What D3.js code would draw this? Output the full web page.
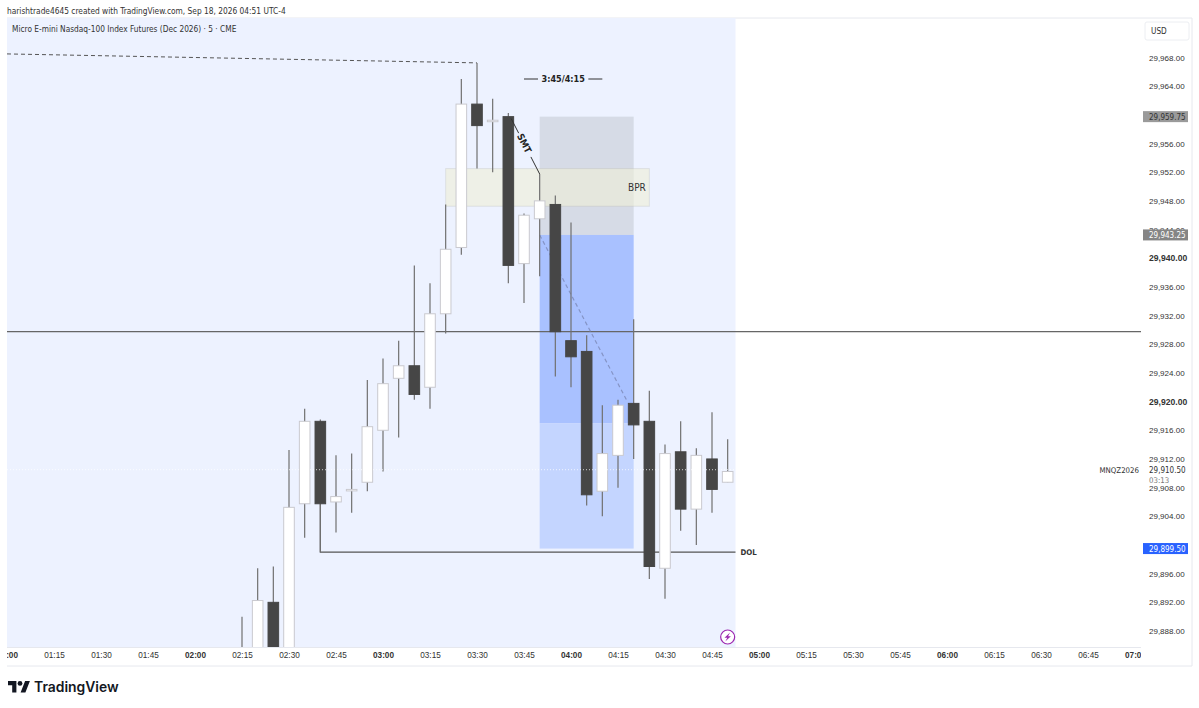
<!DOCTYPE html>
<html>
<head>
<meta charset="utf-8">
<script src="https://d3js.org/d3.v7.min.js"></script>
<style>
  html, body { margin: 0; padding: 0; background: #fff; }
  svg { display: block; font-family: "DejaVu Sans Condensed", "DejaVu Sans", sans-serif; }
  .axis path, .axis line { display: none; }
  .axis text { fill: #333; font-size: 8px; }
  .time text { font-size: 8.2px; }
  .axis text.major { font-weight: bold; }
  .price text.major { font-size: 8.6px; }
</style>
</head>
<body>
<div class="board"></div>
<script>
// candles (the first few run below the bottom of the pane)
var times = ['02:15','02:20','02:25','02:30','02:35','02:40','02:45','02:50','02:55','03:00','03:05','03:10','03:15','03:20','03:25','03:30','03:35','03:40','03:45','03:50','03:55','04:00','04:05','04:10','04:15','04:20','04:25','04:30','04:35','04:40','04:45','04:50'];
var opens = [29883,29884,29892,29885,29905.75,29917.25,29906,29907.75,29908.75,29916,29923.25,29925,29922,29932.25,29941.5,29961.5,29959.25,29959.75,29939.25,29945.5,29947.5,29928.5,29927,29907.5,29912.5,29919.75,29917.25,29896.75,29913,29905,29912,29908.75];
var highs = [29890,29896.75,29897,29913.25,29919,29917.5,29912.5,29912.75,29923,29926,29928.5,29939,29936.5,29947.5,29965,29967.25,29962.25,29960.25,29946.25,29951.75,29948.75,29945,29929.25,29919.5,29920.25,29931.5,29921.5,29914,29917.25,29913.5,29918.5,29914.75];
var lows = [29880,29882,29883,29884,29901,29899,29901.75,29904.5,29907.5,29910.25,29915,29920.25,29919,29929.5,29940.5,29952.5,29952,29936.5,29933.75,29937.5,29923.5,29922,29905.5,29904,29908,29912,29895.25,29892.5,29902,29900,29904.5,29908.75];
var closes = [29885,29892.25,29885,29905.25,29917.25,29905.75,29906.75,29907.75,29916.5,29922.5,29925,29921,29932.25,29941.25,29961.5,29958.5,29959.25,29939,29946,29948,29929.75,29926.25,29907,29912.75,29919.5,29916.75,29897,29912.75,29905,29912.5,29907.75,29910.25];

// axes
var priceTicks = d3.range(29888, 29969, 4);
var majorPrices = [29920, 29940];
var timeTicks = ['01:00','01:15','01:30','01:45','02:00','02:15','02:30','02:45','03:00','03:15','03:30','03:45','04:00','04:15','04:30','04:45','05:00','05:15','05:30','05:45','06:00','06:15','06:30','06:45','07:00'];

// drawings
var sessionEnd = '04:52:30';
var boxTimes = ['03:50', '04:20'];
var stopPrice = 29959.75, entryPrice = 29943.25, midPrice = 29917, targetPrice = 29899.5;
var bprTimes = ['03:20', '04:25'];
var bprPrices = [29952.5, 29947.25];
var levelPrice = 29929.75;
var dolPrice = 29899, dolStart = '02:40';
var dashedTimes = ['01:00', '03:30'], dashedPrices = [29968.5, 29967.25];
var smtTimes = ['03:40', '03:50'], smtPrices = [29960.25, 29951.75];
var pathTimes = ['03:50', '04:18'], pathPrices = [29943.25, 29920];
var lastPrice = 29910.5;

var settings = { w: 1199, h: 708, left: 7, right: 1141, top: 18, bottom: 647, axisEdge: 1192, axisBottom: 666 };

var parseTime = d3.timeParse('%H:%M');
var formatPrice = d3.format(',.2f');

var x = d3.scaleTime()
  .domain([parseTime('01:00'), parseTime('07:00')])
  .range([7, 1135]);

var y = d3.scaleLinear()
  .domain([29888, 29968])
  .range([631, 57.5]);

var board = d3.select('.board').append('svg')
  .attr('width', settings.w)
  .attr('height', settings.h);

var defs = board.append('defs');
defs.append('clipPath').attr('id', 'pane').append('rect')
  .attr('x', settings.left).attr('y', settings.top)
  .attr('width', settings.right - settings.left).attr('height', settings.bottom - settings.top);
defs.append('clipPath').attr('id', 'timeclip').append('rect')
  .attr('x', settings.left).attr('y', settings.bottom)
  .attr('width', settings.right - settings.left).attr('height', settings.axisBottom - settings.bottom);

// header
board.append('text').attr('x', 7).attr('y', 13.5)
  .attr('font-size', 8.3).attr('fill', '#333')
  .text('harishtrade4645 created with TradingView.com, Sep 18, 2026 04:51 UTC-4');

// frame
board.append('path')
  .attr('d', 'M' + settings.left + ',' + settings.top + 'H' + settings.axisEdge + 'V' + settings.axisBottom + 'H' + settings.left)
  .attr('fill', 'none').attr('stroke', '#e6e8ee');
board.append('line')
  .attr('x1', settings.left).attr('x2', settings.right)
  .attr('y1', settings.bottom + .5).attr('y2', settings.bottom + .5)
  .attr('stroke', '#e6e8ee');

var pane = board.append('g').attr('clip-path', 'url(#pane)');

// session background
pane.append('rect')
  .attr('x', settings.left).attr('y', settings.top)
  .attr('width', x(d3.timeParse('%H:%M:%S')(sessionEnd)) - settings.left).attr('height', settings.bottom - settings.top)
  .attr('fill', '#edf2ff');

// short position box
var boxX = x(parseTime(boxTimes[0]));
var boxW = x(parseTime(boxTimes[1])) - boxX;
pane.append('rect').attr('x', boxX).attr('width', boxW)
  .attr('y', y(stopPrice)).attr('height', y(entryPrice) - y(stopPrice)).attr('fill', '#d6dbe6');
pane.append('rect').attr('x', boxX).attr('width', boxW)
  .attr('y', y(entryPrice)).attr('height', y(midPrice) - y(entryPrice)).attr('fill', '#a9c1ff');
pane.append('rect').attr('x', boxX).attr('width', boxW)
  .attr('y', y(midPrice)).attr('height', y(targetPrice) - y(midPrice)).attr('fill', '#c4d5ff');

// BPR
pane.append('rect')
  .attr('x', x(parseTime(bprTimes[0]))).attr('width', x(parseTime(bprTimes[1])) - x(parseTime(bprTimes[0])))
  .attr('y', y(bprPrices[0])).attr('height', y(bprPrices[1]) - y(bprPrices[0]))
  .attr('fill', 'rgba(238,238,215,.6)').attr('stroke', 'rgba(170,170,170,.25)');
pane.append('text')
  .attr('x', x(parseTime(bprTimes[1])) - 3.5).attr('y', (y(bprPrices[0]) + y(bprPrices[1])) / 2 + 3.5)
  .attr('text-anchor', 'end').attr('font-size', 10).attr('fill', '#333').text('BPR');

// horizontal level
pane.append('line')
  .attr('x1', settings.left).attr('x2', settings.right)
  .attr('y1', y(levelPrice)).attr('y2', y(levelPrice))
  .attr('stroke', '#666').attr('stroke-width', 1.3);

// DOL
var dolEnd = x(d3.timeParse('%H:%M:%S')(sessionEnd));
pane.append('path')
  .attr('d', 'M' + x(parseTime(dolStart)) + ',' + y(closes[5]) + 'V' + y(dolPrice) + 'H' + dolEnd)
  .attr('fill', 'none').attr('stroke', '#555').attr('stroke-width', 1.2);
pane.append('text')
  .attr('x', dolEnd + 5).attr('y', y(dolPrice) + 3)
  .attr('font-size', 7.8).attr('font-weight', 'bold').attr('fill', '#333').text('DOL');

// dashed line to the high
pane.append('path')
  .attr('d', d3.line()([[x(parseTime(dashedTimes[0])), y(dashedPrices[0])], [x(parseTime(dashedTimes[1])), y(dashedPrices[1])]]))
  .attr('stroke', '#555').attr('stroke-dasharray', '4,3');

// dashed path down inside the box
pane.append('path')
  .attr('d', d3.line()([[x(parseTime(pathTimes[0])), y(pathPrices[0])], [x(parseTime(pathTimes[1])), y(pathPrices[1])]]))
  .attr('stroke', '#8594c6').attr('stroke-width', 1.2).attr('stroke-dasharray', '4,3');

// candles
var candles = times.map(function(t, i) {
  return { t: parseTime(t), o: opens[i], h: highs[i], l: lows[i], c: closes[i] };
});
var bodyW = 10.6;

var gCandle = pane.selectAll('.candle')
  .data(candles)
  .enter()
  .append('g')
  .attr('class', 'candle');

gCandle.append('line')
  .attr('x1', function(d) { return x(d.t); })
  .attr('x2', function(d) { return x(d.t); })
  .attr('y1', function(d) { return y(d.h); })
  .attr('y2', function(d) { return y(d.l); })
  .attr('stroke', '#707070')
  .attr('stroke-width', 1.2);

gCandle.append('rect')
  .attr('x', function(d) { return x(d.t) - bodyW / 2; })
  .attr('width', bodyW)
  .attr('y', function(d) { return y(Math.max(d.o, d.c)); })
  .attr('height', function(d) { return Math.max(1.5, Math.abs(y(d.o) - y(d.c))); })
  .attr('fill', function(d) { return d.c >= d.o ? '#fff' : '#464646'; })
  .attr('stroke', function(d) { return d.c >= d.o ? '#c9c9cf' : '#464646'; })
  .attr('stroke-width', 1);

// last price dotted line
pane.append('line')
  .attr('x1', settings.left).attr('x2', settings.right)
  .attr('y1', y(lastPrice)).attr('y2', y(lastPrice))
  .attr('stroke', 'rgba(255,255,255,.75)').attr('stroke-dasharray', '1,2');

// SMT
var smtA = [x(parseTime(smtTimes[0])), y(smtPrices[0])];
var smtB = [x(parseTime(smtTimes[1])), y(smtPrices[1])];
var smtAt = function(f) {
  return [smtA[0] + (smtB[0] - smtA[0]) * f, smtA[1] + (smtB[1] - smtA[1]) * f];
};
var smtAngle = Math.atan2(smtB[1] - smtA[1], smtB[0] - smtA[0]) * 180 / Math.PI;
[[0.09, 0.33], [0.72, 1]].forEach(function(f) {
  pane.append('path').attr('d', d3.line()([smtAt(f[0]), smtAt(f[1])])).attr('stroke', '#333');
});
var smtMid = smtAt(0.5);
pane.append('text')
  .attr('transform', 'translate(' + smtMid[0] + ',' + smtMid[1] + ') rotate(' + smtAngle + ')')
  .attr('text-anchor', 'middle').attr('dy', 3)
  .attr('font-size', 9.5).attr('font-weight', 'bold').attr('fill', '#222').text('SMT');

// session label
var labelY = y(29965);
var labelX = x(parseTime('03:45'));
var labelEnd = x(parseTime('04:10'));
pane.append('text')
  .attr('x', (labelX + labelEnd) / 2).attr('y', labelY + 3)
  .attr('text-anchor', 'middle').attr('font-size', 9).attr('font-weight', 'bold').attr('fill', '#222')
  .text('3:45/4:15');
[[labelX, labelX + 14], [labelEnd - 14, labelEnd]].forEach(function(s) {
  pane.append('line').attr('x1', s[0]).attr('x2', s[1]).attr('y1', labelY).attr('y2', labelY).attr('stroke', '#333');
});

// lightning marker
var bolt = board.append('g').attr('transform', 'translate(' + x(parseTime('04:50')) + ',637)');
bolt.append('circle').attr('r', 7).attr('fill', '#fff').attr('stroke', '#9c27b0').attr('stroke-width', 1.2);
bolt.append('path').attr('d', 'M2.4,-4.4L-3.2,.8H-.4L-2.4,4.4L3.2,-.8H.4Z').attr('fill', '#9c27b0');

// price axis
var priceAxis = board.append('g')
  .attr('class', 'axis price')
  .attr('transform', 'translate(1149,0)')
  .call(d3.axisRight(y).tickValues(priceTicks).tickSize(0).tickPadding(0).tickFormat(formatPrice));
priceAxis.selectAll('text')
  .attr('class', function(d) { return majorPrices.indexOf(d) >= 0 ? 'major' : null; });

// time axis
var timeAxis = board.append('g')
  .attr('clip-path', 'url(#timeclip)')
  .append('g')
  .attr('class', 'axis time')
  .attr('transform', 'translate(0,652.5)')
  .call(d3.axisBottom(x)
    .tickValues(timeTicks.map(parseTime))
    .tickSize(0).tickPadding(0)
    .tickFormat(d3.timeFormat('%H:%M')));
timeAxis.selectAll('text')
  .attr('class', function(d) { return d.getMinutes() === 0 ? 'major' : null; });

// price tags
function priceTag(price, fill, color) {
  var h = 11;
  board.append('rect').attr('x', 1143).attr('y', y(price) - h / 2).attr('width', 45).attr('height', h).attr('fill', fill);
  board.append('text').attr('x', 1149).attr('y', y(price) + 3).attr('font-size', 8).attr('fill', color).text(formatPrice(price));
}
priceTag(stopPrice, '#9a9a9a', '#333');
priceTag(entryPrice, '#858585', '#fff');
priceTag(targetPrice, '#2962ff', '#fff');

// last price tag
board.append('rect').attr('x', 1143).attr('y', y(lastPrice) - 5).attr('width', 45).attr('height', 20).attr('fill', '#fff');
board.append('text').attr('x', 1149).attr('y', y(lastPrice) + 3).attr('font-size', 8).attr('fill', '#333').text(formatPrice(lastPrice));
board.append('text').attr('x', 1149).attr('y', y(lastPrice) + 13).attr('font-size', 7.8).attr('fill', '#777').text('03:13');
board.append('text').attr('x', 1139).attr('y', y(lastPrice) + 3).attr('text-anchor', 'end').attr('font-size', 7.8).attr('fill', '#333').text('MNQZ2026');

// currency button
board.append('rect').attr('x', 1145).attr('y', 22).attr('width', 44).attr('height', 18).attr('rx', 2)
  .attr('fill', '#fff').attr('stroke', '#eceef2');
board.append('text').attr('x', 1151).attr('y', 34).attr('font-size', 8.2).attr('fill', '#333').text('USD');

// chart title
board.append('text').attr('x', 12).attr('y', 32).attr('font-size', 8.25).attr('fill', '#333')
  .text('Micro E-mini Nasdaq-100 Index Futures (Dec 2026) · 5 · CME');

// footer logo
var logo = board.append('g').attr('transform', 'translate(8,681) scale(.6)').attr('fill', '#131722');
logo.append('path').attr('d', 'M14 19H7V7H0V0h14zM29 19h-8l7.5-19h8z');
logo.append('circle').attr('cx', 20).attr('cy', 4).attr('r', 4);
board.append('text').attr('x', 34).attr('y', 692)
  .attr('font-family', 'Inter').attr('font-weight', 600).attr('font-size', 13.9).attr('fill', '#131722')
  .text('TradingView');
</script>
</body>
</html>
